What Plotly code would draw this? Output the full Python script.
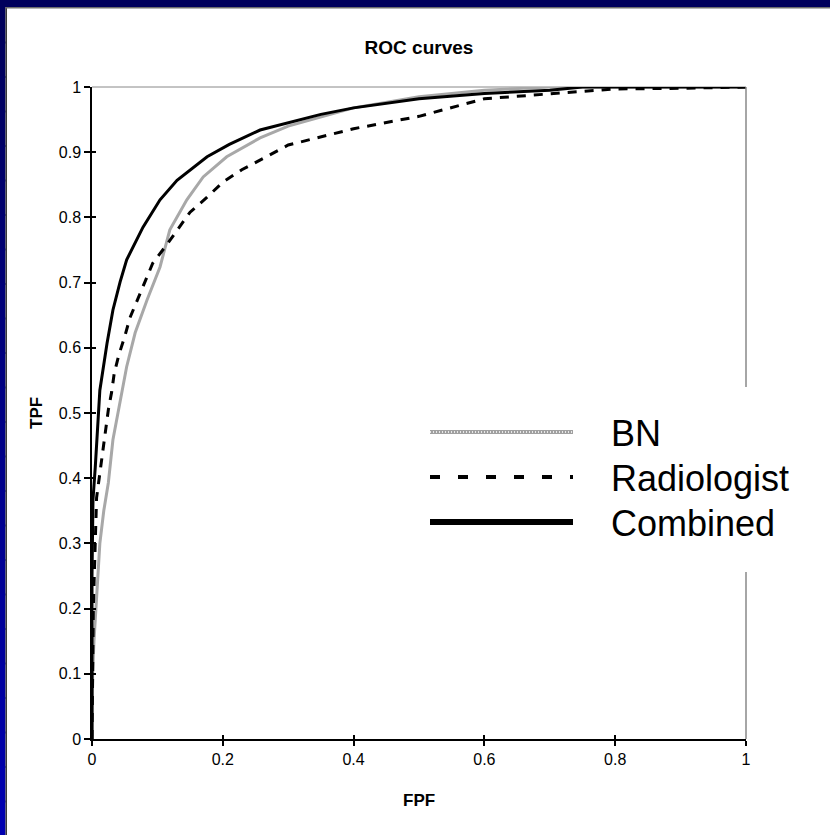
import plotly.graph_objects as go

# ---------------- data ----------------
fpf_comb = [0, 0, 0.0015, 0.005, 0.012, 0.023, 0.032, 0.043, 0.053, 0.073, 0.078, 0.104,
            0.130, 0.176, 0.21, 0.257, 0.3, 0.35, 0.4, 0.5, 0.6, 0.7, 0.75, 0.85, 1.0]
tpf_comb = [0, 0.25, 0.367, 0.417, 0.535, 0.607, 0.658, 0.701, 0.735, 0.776, 0.785, 0.827,
            0.857, 0.893, 0.912, 0.934, 0.945, 0.958, 0.968, 0.982, 0.99, 0.995, 1.0, 1.0, 1.0]

fpf_rad = [0, 0.002, 0.007, 0.010, 0.014, 0.017, 0.021, 0.025, 0.030, 0.034, 0.041, 0.050,
           0.058, 0.069, 0.081, 0.093, 0.112, 0.130, 0.150, 0.176, 0.200, 0.229, 0.257, 0.3,
           0.4, 0.5, 0.6, 0.7, 0.8, 0.9, 1.0]
tpf_rad = [0, 0.2, 0.37, 0.394, 0.423, 0.449, 0.477, 0.505, 0.532, 0.561, 0.589, 0.617,
           0.646, 0.673, 0.701, 0.730, 0.755, 0.781, 0.808, 0.831, 0.854, 0.873, 0.888, 0.911,
           0.936, 0.955, 0.982, 0.99, 0.997, 0.998, 1.0]

fpf_bn = [0, 0.001, 0.003, 0.006, 0.012, 0.018, 0.025, 0.032, 0.043, 0.053, 0.066, 0.084,
          0.104, 0.119, 0.145, 0.170, 0.206, 0.257, 0.3, 0.4, 0.5, 0.6, 0.7, 0.8, 1.0]
tpf_bn = [0, 0.1, 0.15, 0.2, 0.3, 0.35, 0.393, 0.459, 0.520, 0.571, 0.623, 0.673,
          0.724, 0.781, 0.827, 0.862, 0.893, 0.922, 0.94, 0.968, 0.985, 0.995, 1.0, 1.0, 1.0]

series_names = ["BN", "Radiologist", "Combined"]
x_ticks = [0, 0.2, 0.4, 0.6, 0.8, 1]
x_tick_labels = ["0", "0.2", "0.4", "0.6", "0.8", "1"]
y_ticks = [0, 0.1, 0.2, 0.3, 0.4, 0.5, 0.6, 0.7, 0.8, 0.9, 1]
y_tick_labels = ["0", "0.1", "0.2", "0.3", "0.4", "0.5", "0.6", "0.7", "0.8", "0.9", "1"]

# ---------------- layout geometry ----------------
W, H = 830, 835
L, R, T, B = 92, 84, 87, 96
PW, PH = W - L - R, H - T - B
FONT = "Liberation Sans, Arial, sans-serif"


def px(x):
    return (x - L) / PW


def py(y):
    return (H - B - y) / PH


fig = go.Figure()

fig.add_trace(go.Scatter(x=fpf_bn, y=tpf_bn, mode="lines", name=series_names[0],
                         line=dict(color="#a8a8a8", width=3), showlegend=False))
fig.add_trace(go.Scatter(x=fpf_rad, y=tpf_rad, mode="lines", name=series_names[1],
                         line=dict(color="black", width=3, dash="9px,8px"), showlegend=False))
fig.add_trace(go.Scatter(x=fpf_comb, y=tpf_comb, mode="lines", name=series_names[2],
                         line=dict(color="black", width=3), showlegend=False))
# helper (empty) trace so the overlay axes carrying inner tick marks are drawn
fig.add_trace(go.Scatter(x=[None], y=[None], xaxis="x2", yaxis="y2", showlegend=False,
                         hoverinfo="skip"))

shapes = []
# frame: top & right grey lines
shapes.append(dict(type="line", xref="paper", yref="paper", x0=0, x1=1, y0=1, y1=1,
                   line=dict(color="#888888", width=1), layer="below"))
shapes.append(dict(type="line", xref="paper", yref="paper", x0=1, x1=1, y0=0, y1=1,
                   line=dict(color="#888888", width=1.5), layer="above"))

# slide border: top navy band and left blue gradient band
nseg = 24
for i in range(nseg):
    y0p = 7 + (H - 7) * i / nseg
    y1p = 7 + (H - 7) * (i + 1) / nseg + 2
    f = i / (nseg - 1)
    b = int(0x5c + (0xb0 - 0x5c) * f)
    shapes.append(dict(type="rect", xref="paper", yref="paper", x0=px(0), x1=px(5.5),
                       y0=py(min(y1p, H)), y1=py(y0p), fillcolor=f"rgb(0,0,{b})",
                       line_width=0, layer="above"))
shapes.append(dict(type="rect", xref="paper", yref="paper", x0=px(5.5), x1=px(7),
                   y0=py(H), y1=py(7), fillcolor="#3a3a3a", line_width=0, layer="above"))
shapes.append(dict(type="rect", xref="paper", yref="paper", x0=px(0), x1=px(W),
                   y0=py(7), y1=py(0), fillcolor="#00005c", line_width=0, layer="above"))
shapes.append(dict(type="rect", xref="paper", yref="paper", x0=px(5.5), x1=px(W),
                   y0=py(8.5), y1=py(7), fillcolor="#6e6e6e", line_width=0, layer="above"))

# manual legend (long line samples)
shapes.append(dict(type="rect", xref="paper", yref="paper", x0=px(415), x1=px(805),
                   y0=py(572), y1=py(387), fillcolor="white", line_width=0, layer="above"))
leg_y = [432, 477, 522]
shapes.append(dict(type="line", xref="paper", yref="paper", x0=px(430), x1=px(573),
                   y0=py(leg_y[0]), y1=py(leg_y[0]),
                   line=dict(color="#a0a0a0", width=4), layer="above"))
shapes.append(dict(type="line", xref="paper", yref="paper", x0=px(430), x1=px(573),
                   y0=py(leg_y[0]), y1=py(leg_y[0]),
                   line=dict(color="#e8e8e8", width=2, dash="1px,2px"), layer="above"))
shapes.append(dict(type="line", xref="paper", yref="paper", x0=px(430), x1=px(573),
                   y0=py(leg_y[1]), y1=py(leg_y[1]),
                   line=dict(color="black", width=4, dash="10px,18px"), layer="above"))
shapes.append(dict(type="line", xref="paper", yref="paper", x0=px(430), x1=px(573),
                   y0=py(leg_y[2]), y1=py(leg_y[2]),
                   line=dict(color="black", width=6), layer="above"))

annotations = []
for name, yy in zip(series_names, leg_y):
    annotations.append(dict(text=name, xref="paper", yref="paper", x=px(609), y=py(yy + 1),
                            xanchor="left", yanchor="middle", showarrow=False,
                            font=dict(family=FONT, size=36, color="black")))
annotations.append(dict(text="<b>FPF</b>", xref="paper", yref="paper", x=px(419), y=py(800),
                        xanchor="center", yanchor="middle", showarrow=False,
                        font=dict(family=FONT, size=17, color="black")))
annotations.append(dict(text="<b>TPF</b>", xref="paper", yref="paper", x=px(36), y=py(413),
                        xanchor="center", yanchor="middle", showarrow=False, textangle=-90,
                        font=dict(family=FONT, size=17, color="black")))

axis_common = dict(showgrid=False, zeroline=False, range=[0, 1], fixedrange=True)

fig.update_layout(
    width=W, height=H,
    margin=dict(l=L, r=R, t=T, b=B, pad=0),
    paper_bgcolor="white", plot_bgcolor="white",
    font=dict(family=FONT, size=16, color="black"),
    title=dict(text="<b>ROC curves</b>", x=(L + 327) / W, xanchor="center",
               y=1 - 47 / H, yanchor="middle", font=dict(family=FONT, size=19, color="black")),
    xaxis=dict(**axis_common, tickvals=x_ticks, ticktext=x_tick_labels, ticks="outside",
               ticklen=5, tickwidth=1.5, tickcolor="black", showline=True, linecolor="black",
               linewidth=1.5, tickfont=dict(size=16)),
    yaxis=dict(**axis_common, tickvals=y_ticks, ticktext=y_tick_labels, ticks="outside",
               ticklen=6, tickwidth=1.5, tickcolor="black", showline=True, linecolor="black",
               linewidth=1.5, tickfont=dict(size=16)),
    xaxis2=dict(**axis_common, overlaying="x", anchor="y2", side="bottom", tickvals=x_ticks,
                ticks="inside", ticklen=4, tickwidth=1.5, tickcolor="black",
                showticklabels=False, showline=False),
    yaxis2=dict(**axis_common, overlaying="y", anchor="x2", side="left", tickvals=y_ticks,
                ticks="inside", ticklen=4, tickwidth=1.5, tickcolor="black",
                showticklabels=False, showline=False),
    shapes=shapes,
    annotations=annotations,
    showlegend=False,
)

fig.write_html("out.html")
